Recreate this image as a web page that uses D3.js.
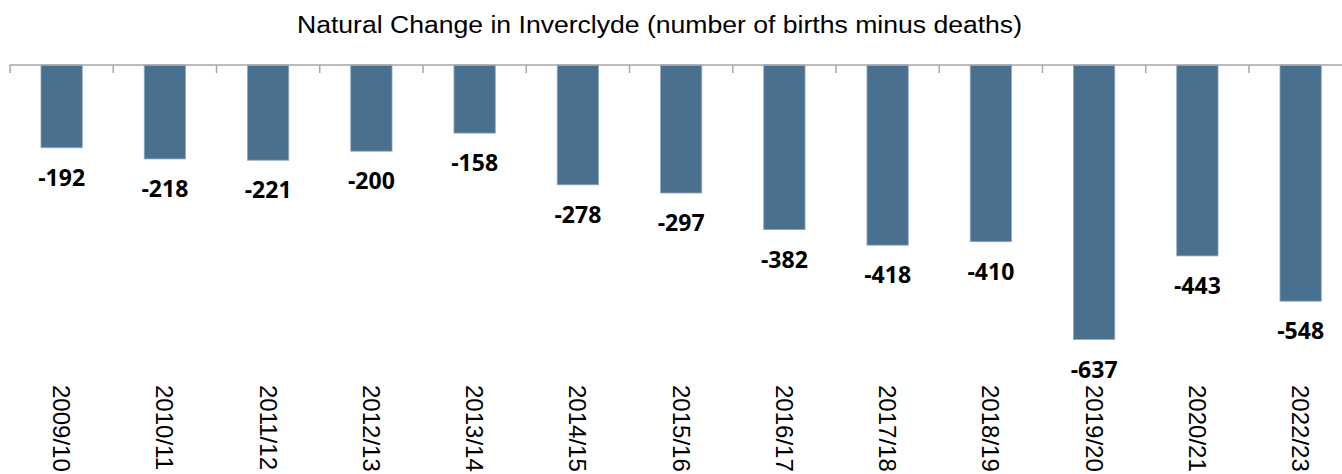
<!DOCTYPE html>
<html>
<head>
<meta charset="utf-8">
<script src="https://cdn.jsdelivr.net/npm/d3@7"></script>
<style>
  body { margin: 0; background: #fff; }
  svg { display: block; }
</style>
</head>
<body>
<script>
var width = 1342
var height = 474

// data
var years = ["2009/10", "2010/11", "2011/12", "2012/13", "2013/14", "2014/15", "2015/16",
             "2016/17", "2017/18", "2018/19", "2019/20", "2020/21", "2022/23"]
var naturalChange = [-192, -218, -221, -200, -158, -278, -297, -382, -418, -410, -637, -443, -548]

var svg = d3.select("body")
	.append("svg")
	.attr("width", width)
	.attr("height", height)

// title
svg.append("text")
	.attr("x", 659.5)
	.attr("y", 33)
	.attr("text-anchor", "middle")
	.attr("textLength", 725)
	.attr("lengthAdjust", "spacingAndGlyphs")
	.style("font-family", "'Liberation Sans', Arial, sans-serif")
	.style("font-size", "23.5px")
	.style("fill", "#000")
	.text("Natural Change in Inverclyde (number of births minus deaths)")

// the plot runs past the right edge, like the original
var x = d3.scaleBand()
	.domain(years)
	.range([10, 10 + 13 * 103.25])
	.paddingInner(0.6)
	.paddingOuter(0.3)

var y = d3.scaleLinear()
	.domain([-700, 0])
	.range([366.7, 65])

// bars
svg.selectAll("rect.bar")
	.data(naturalChange)
	.enter()
	.append("rect")
	.attr("class", "bar")
	.attr("x", function(d, i) { return x(years[i]) })
	.attr("width", x.bandwidth())
	.attr("y", y(0))
	.attr("height", function(d) { return y(d) - y(0) })
	.style("fill", "#4a7090")
	.style("stroke", "#8fa9c0")
	.style("stroke-width", 0.8)

// value labels under each bar (plain hyphen, as in the original)
svg.selectAll("text.value")
	.data(naturalChange)
	.enter()
	.append("text")
	.attr("class", "value")
	.attr("x", function(d, i) { return x(years[i]) + x.bandwidth() / 2 })
	.attr("y", function(d) { return y(d) + 38 })
	.attr("text-anchor", "middle")
	.style("font-family", "'Open Sans', sans-serif")
	.style("font-weight", "bold")
	.style("font-size", "23px")
	.style("fill", "#000")
	.text(function(d) { return String(d) })

// category axis along zero, ticks between categories
var axisLine = svg.append("g")
axisLine.append("line")
	.attr("x1", 10)
	.attr("x2", width)
	.attr("y1", y(0))
	.attr("y2", y(0))
	.style("stroke", "#a6a6a6")
	.style("stroke-width", 1.5)

var boundaries = years.map(function(d) { return x(d) - x.step() * x.paddingInner() / 2 })
axisLine.selectAll("line.tick")
	.data(boundaries)
	.enter()
	.append("line")
	.attr("class", "tick")
	.attr("x1", function(d) { return d })
	.attr("x2", function(d) { return d })
	.attr("y1", y(0))
	.attr("y2", y(0) + 8)
	.style("stroke", "#a6a6a6")
	.style("stroke-width", 1.5)

// rotated year labels at the bottom
svg.selectAll("text.year")
	.data(years)
	.enter()
	.append("text")
	.attr("class", "year")
	.attr("transform", function(d) {
		return "translate(" + (x(d) + x.bandwidth() / 2) + ",385) rotate(90)"
	})
	.attr("dy", "0.35em")
	.style("font-family", "'Liberation Sans', Arial, sans-serif")
	.style("font-size", "24px")
	.style("fill", "#000")
	.text(function(d) { return d })
</script>
</body>
</html>
